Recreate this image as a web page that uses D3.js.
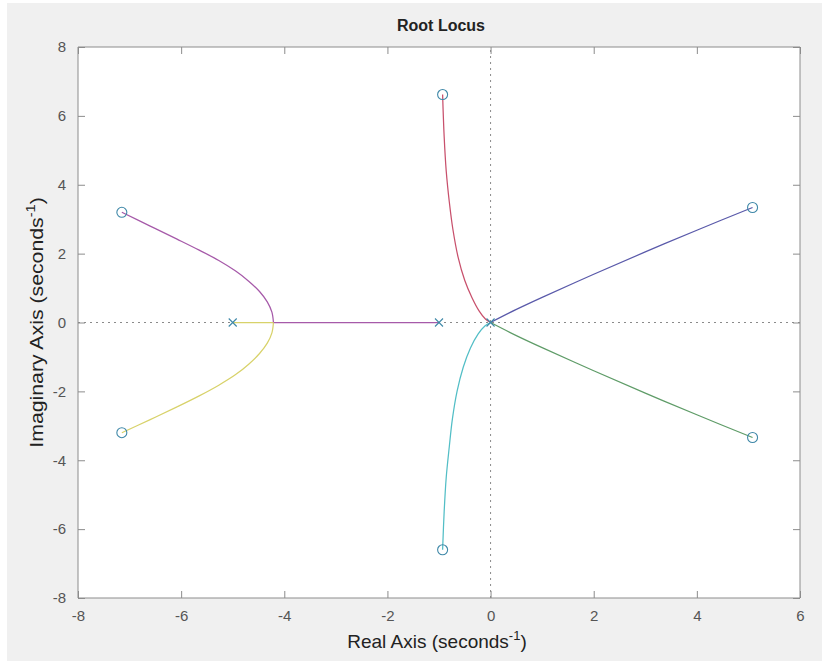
<!DOCTYPE html>
<html>
<head>
<meta charset="utf-8">
<script src="https://cdn.jsdelivr.net/npm/d3@7"></script>
<style>
  html, body { margin: 0; padding: 0; background: #ffffff; }
  svg { display: block; font-family: "Liberation Sans", Arial, Helvetica, sans-serif; }
</style>
</head>
<body>
<svg id="chart" width="822" height="661"></svg>
<script>
// Axis ticks
const xTicks = [-8, -6, -4, -2, 0, 2, 4, 6];
const yTicks = [-8, -6, -4, -2, 0, 2, 4, 6, 8];

// Open-loop poles (x) and zeros (o): [real, imaginary]
const poles = [[-5, 0], [-1, 0], [0, 0]];
const zeros = [[-7.15, 3.2], [-7.15, -3.2], [-0.93, 6.62], [-0.93, -6.6], [5.08, 3.34], [5.08, -3.34]];

// Real-axis segments of the locus
const realMagenta = [[-1, 0], [-4.21, 0]];
const realYellow = [[-5, 0], [-4.21, 0]];

// Complex branches: [real, imaginary] points
const branchMagenta = [[-4.21, 0], [-4.24, 0.3], [-4.33, 0.6], [-4.48, 0.9], [-4.69, 1.2], [-4.95, 1.5], [-5.27, 1.8], [-5.65, 2.1], [-6.08, 2.42], [-6.6, 2.8], [-7.15, 3.2]];
const branchYellow = [[-4.21, 0], [-4.24, -0.3], [-4.33, -0.6], [-4.48, -0.9], [-4.69, -1.21], [-4.95, -1.52], [-5.27, -1.82], [-5.65, -2.13], [-6.08, -2.45], [-6.6, -2.82], [-7.15, -3.2]];
const branchRed = [[0, 0], [-0.1, 0.1], [-0.22, 0.33], [-0.36, 0.72], [-0.5, 1.22], [-0.63, 1.9], [-0.73, 2.7], [-0.8, 3.5], [-0.86, 4.4], [-0.9, 5.4], [-0.93, 6.62]];
const branchCyan = [[0, 0], [-0.11, -0.1], [-0.24, -0.33], [-0.39, -0.74], [-0.53, -1.3], [-0.65, -2.0], [-0.74, -2.8], [-0.8, -3.6], [-0.86, -4.5], [-0.9, -5.5], [-0.93, -6.6]];
const branchBlue = [[0, 0], [0.5, 0.38], [1.0, 0.73], [2.0, 1.4], [3.0, 2.05], [4.0, 2.68], [5.08, 3.34]];
const branchGreen = [[0, 0], [0.5, -0.38], [1.0, -0.73], [2.0, -1.4], [3.0, -2.05], [4.0, -2.68], [5.08, -3.34]];

const colors = {
  magenta: "#a65aa9", yellow: "#d8d26a", red: "#c8506c",
  cyan: "#52bec6", blue: "#5a5aaa", green: "#5f9c68"
};

const segments = [
  { pts: realYellow, color: colors.yellow },
  { pts: realMagenta, color: colors.magenta },
  { pts: branchMagenta, color: colors.magenta },
  { pts: branchYellow, color: colors.yellow },
  { pts: branchRed, color: colors.red },
  { pts: branchCyan, color: colors.cyan },
  { pts: branchBlue, color: colors.blue },
  { pts: branchGreen, color: colors.green }
];

const W = 822, H = 661;
const plot = { left: 78, right: 800, top: 47, bottom: 598 };

const svg = d3.select("#chart");

// figure background
svg.append("rect").attr("x", 7).attr("y", 3).attr("width", W - 7).attr("height", H - 3).attr("fill", "#f0f0f0");
svg.append("rect")
  .attr("x", plot.left).attr("y", plot.top)
  .attr("width", plot.right - plot.left).attr("height", plot.bottom - plot.top)
  .attr("fill", "#ffffff");

const x = d3.scaleLinear().domain([-8, 6]).range([plot.left, plot.right]);
const y = d3.scaleLinear().domain([-8, 8]).range([plot.bottom, plot.top]);

// dotted zero lines
svg.append("line")
  .attr("x1", x(-8)).attr("x2", x(6)).attr("y1", y(0)).attr("y2", y(0))
  .attr("stroke", "#8a8a8a").attr("stroke-width", 1).attr("stroke-dasharray", "2,4");
svg.append("line")
  .attr("x1", x(0)).attr("x2", x(0)).attr("y1", y(-8)).attr("y2", y(8))
  .attr("stroke", "#8a8a8a").attr("stroke-width", 1).attr("stroke-dasharray", "2,4");

// locus
const line = d3.line().x(d => x(d[0])).y(d => y(d[1])).curve(d3.curveCatmullRom.alpha(0.5));
segments.forEach(s => {
  svg.append("path")
    .attr("d", line(s.pts))
    .attr("fill", "none")
    .attr("stroke", s.color)
    .attr("stroke-width", 1.25);
});

// markers
const markColor = "#3f88a8";
svg.selectAll("circle.zero").data(zeros).enter().append("circle")
  .attr("class", "zero")
  .attr("cx", d => x(d[0])).attr("cy", d => y(d[1])).attr("r", 5)
  .attr("fill", "none").attr("stroke", markColor).attr("stroke-width", 1.1);
svg.selectAll("path.pole").data(poles).enter().append("path")
  .attr("class", "pole")
  .attr("d", d => {
    const cx = x(d[0]), cy = y(d[1]), s = 4;
    return `M${cx - s},${cy - s}L${cx + s},${cy + s}M${cx - s},${cy + s}L${cx + s},${cy - s}`;
  })
  .attr("fill", "none").attr("stroke", markColor).attr("stroke-width", 1.1);

// axes (box with inward ticks on all sides)
const axisColor = "#8c8c8c";
const tickLen = 7;
const fmt = d => String(d);
const bottomAxis = d3.axisBottom(x).tickValues(xTicks).tickSize(-tickLen).tickPadding(12).tickFormat(fmt);
const topAxis = d3.axisTop(x).tickValues(xTicks).tickSize(-tickLen).tickFormat("");
const leftAxis = d3.axisLeft(y).tickValues(yTicks).tickSize(-tickLen).tickPadding(12).tickFormat(fmt);
const rightAxis = d3.axisRight(y).tickValues(yTicks).tickSize(-tickLen).tickFormat("");

function style(g) {
  g.select(".domain").attr("stroke", axisColor).attr("stroke-width", 1);
  g.selectAll(".tick line").attr("stroke", axisColor);
  g.selectAll(".tick text").attr("fill", "#555555").style("font-size", "15px")
    .style("font-family", "'Liberation Sans', Arial, sans-serif");
}
svg.append("g").attr("transform", `translate(0,${plot.bottom})`).call(bottomAxis).call(style)
  .call(g => g.select(".domain").attr("d", `M${plot.left},0H${plot.right}`));
svg.append("g").attr("transform", `translate(0,${plot.top})`).call(topAxis).call(style)
  .call(g => g.select(".domain").attr("d", `M${plot.left},0H${plot.right}`));
svg.append("g").attr("transform", `translate(${plot.left},0)`).call(leftAxis).call(style)
  .call(g => g.select(".domain").attr("d", `M0,${plot.top}V${plot.bottom}`));
svg.append("g").attr("transform", `translate(${plot.right},0)`).call(rightAxis).call(style)
  .call(g => g.select(".domain").attr("d", `M0,${plot.top}V${plot.bottom}`));

// title
svg.append("text")
  .attr("x", 441).attr("y", 31)
  .attr("text-anchor", "middle")
  .style("font-size", "16px").style("font-weight", "bold").attr("fill", "#222")
  .text("Root Locus");

// x label
const xl = svg.append("text")
  .attr("x", 437).attr("y", 648)
  .attr("text-anchor", "middle")
  .style("font-size", "19px").attr("fill", "#222");
xl.append("tspan").text("Real Axis (seconds");
xl.append("tspan").attr("dy", -8).style("font-size", "13px").text("-1");
xl.append("tspan").attr("dy", 8).text(")");

// y label
const yl = svg.append("text")
  .attr("transform", `translate(43,${(plot.top + plot.bottom) / 2}) rotate(-90) scale(1.12,1)`)
  .attr("text-anchor", "middle")
  .style("font-size", "19px").attr("fill", "#222");
yl.append("tspan").text("Imaginary Axis (seconds");
yl.append("tspan").attr("dy", -8).style("font-size", "13px").text("-1");
yl.append("tspan").attr("dy", 8).text(")");
</script>
</body>
</html>
